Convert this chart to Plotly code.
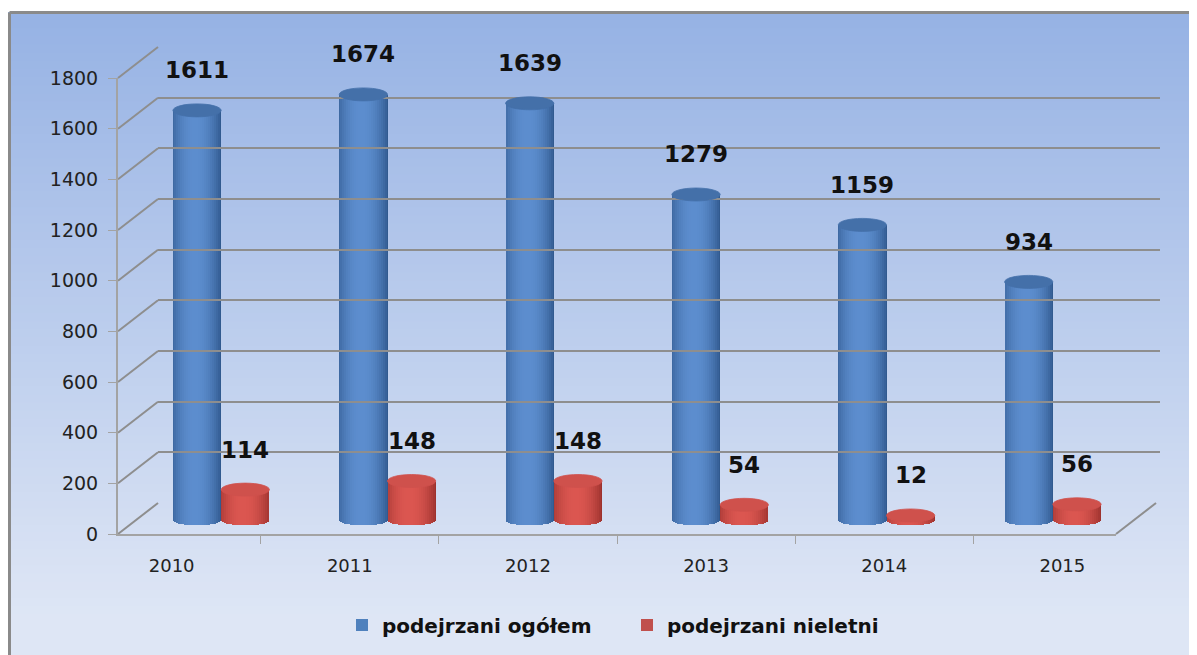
import plotly.graph_objects as go
import numpy as np

# ---------------- data ----------------
years = ["2010", "2011", "2012", "2013", "2014", "2015"]
ogolem = [1611, 1674, 1639, 1279, 1159, 934]
nieletni = [114, 148, 148, 54, 12, 56]
series_names = ["podejrzani ogółem", "podejrzani nieletni"]
y_ticks = [0, 200, 400, 600, 800, 1000, 1200, 1400, 1600, 1800]

# ---------------- geometry (screen pixels) ----------------
W, H = 1197, 655
OX, OY = 8, 8                 # page body margin offset
FX0, FX1 = 118, 1116          # front plane x extent
FY0, FY1 = 534, 78            # front plane y of 0 and 1800
DX, DY = 40, 31               # depth offset front -> back
YMAX = 1800
S = (FY0 - FY1) / YMAX        # px per unit
MX0, MX1 = FX0 + DX / 2, FX1 + DX / 2
MY0 = FY0 - DY / 2
YLOW = -100                   # extra room below zero for rounded bottoms


def px(x):
    return (x - OX) / W


def py(y):
    return 1 - (y - OY) / H


def front_y(v):
    return FY0 - v * S


def back_y(v):
    return FY0 - DY - v * S


FONT = "DejaVu Sans"
GRID = "#8e8e8e"
AXIS = "#a3a3a3"

fig = go.Figure()

# ---------------- cylinder bars ----------------
BW = 0.29
OFF = 0.145
M = 24
EH = 6.5 / S

palettes = [
    dict(left=(58, 100, 156), light=(92, 141, 206), right=(44, 84, 136), cap="#4470a9"),
    dict(left=(170, 58, 54), light=(219, 86, 80), right=(150, 46, 42), cap="#cf514c"),
]


def strip_color(p, u):
    c = 0.45
    if u <= c:
        f = np.sin((u / c) * np.pi / 2) ** 0.8
        a, b = p["left"], p["light"]
    else:
        f = np.cos(((u - c) / (1 - c)) * np.pi / 2) ** 0.8
        a, b = p["right"], p["light"]
    rgb = [int(round(a[i] + (b[i] - a[i]) * f)) for i in range(3)]
    return "rgb(%d,%d,%d)" % tuple(rgb)


series = [ogolem, nieletni]
offsets = [-OFF, OFF]
shapes = []

for si, vals in enumerate(series):
    p = palettes[si]
    centres = [i + offsets[si] for i in range(len(years))]
    # draw from the outer edges inwards so overlaps hide seams
    order = sorted(range(M), key=lambda j: abs((j + 0.5) / M - 0.45), reverse=True)
    for j in order:
        u = (j + 0.5) / M
        xs = [c - BW / 2 + u * BW for c in centres]
        drop = EH * np.sqrt(max(0.0, 1 - (2 * u - 1) ** 2))
        col = strip_color(p, u)
        w = BW / M * (1.0 if j in (0, M - 1) else 2.2)
        fig.add_trace(go.Bar(
            x=xs, y=[v + drop for v in vals], base=[-drop] * len(vals),
            width=w,
            marker=dict(color=col, line=dict(width=0)),
            showlegend=False, hoverinfo="skip",
            xaxis="x", yaxis="y",
        ))
    for c, v in zip(centres, vals):
        shapes.append(dict(type="circle", xref="x", yref="y",
                           x0=c - BW / 2, x1=c + BW / 2, y0=v - EH, y1=v + EH,
                           fillcolor=p["cap"], line=dict(width=0.8, color=p["cap"]),
                           layer="above"))

leg_cols = ["#4f81bd", "#c0504d"]
for name, col in zip(series_names, leg_cols):
    fig.add_trace(go.Scatter(x=[None], y=[None], mode="markers", name=name,
                             marker=dict(symbol="square", size=14, color=col),
                             xaxis="x", yaxis="y"))

# ---------------- value labels ----------------
annotations = []
for si, vals in enumerate(series):
    for i, v in enumerate(vals):
        annotations.append(dict(x=i + offsets[si], y=v, xref="x", yref="y",
                                text=str(v), showarrow=False, yshift=40,
                                font=dict(family=FONT, size=23, color="#111111", weight="bold")))

# ---------------- background gradient & border ----------------
top_c = np.array([150, 178, 228])
bot_c = np.array([222, 230, 245])
NB = 80
y_start, y_end = 12, H + OY
bg = []
for k in range(NB):
    ya = y_start + (y_end - y_start) * k / NB
    yb = y_start + (y_end - y_start) * (k + 1) / NB + 1
    t = (k + 0.5) / NB
    c = top_c + (bot_c - top_c) * min(1.0, t * 1.08)
    bg.append(dict(type="rect", xref="paper", yref="paper",
                   x0=px(8), x1=1, y0=max(0, py(yb)), y1=py(ya),
                   fillcolor="rgb(%d,%d,%d)" % tuple(int(round(q)) for q in c),
                   line=dict(width=0), layer="below"))
bg.append(dict(type="line", xref="paper", yref="paper", x0=px(9.5), x1=1,
               y0=py(12.5), y1=py(12.5), line=dict(color="#8a8a8a", width=3), layer="below"))
bg.append(dict(type="line", xref="paper", yref="paper", x0=px(9.5), x1=px(9.5),
               y0=py(12.5), y1=0, line=dict(color="#8a8a8a", width=3), layer="below"))

# ---------------- 3D frame ----------------
frame = []
for v in y_ticks:
    frame.append(dict(type="line", xref="paper", yref="paper",
                      x0=px(FX0), y0=py(front_y(v)), x1=px(FX0 + DX), y1=py(back_y(v)),
                      line=dict(color=GRID, width=2), layer="below"))
frame.append(dict(type="line", xref="paper", yref="paper",
                  x0=px(FX1), y0=py(front_y(0)), x1=px(FX1 + DX), y1=py(back_y(0)),
                  line=dict(color=GRID, width=2), layer="below"))

fig.update_layout(
    width=W, height=H,
    margin=dict(l=0, r=0, t=0, b=0, autoexpand=False),
    paper_bgcolor="white",
    plot_bgcolor="rgba(0,0,0,0)",
    barmode="overlay",
    bargap=0,
    showlegend=True,
    legend=dict(orientation="h", x=px(342), xanchor="left", y=py(625), yanchor="middle",
                font=dict(family=FONT, size=20, color="#111111", weight="bold"),
                bgcolor="rgba(0,0,0,0)", itemsizing="constant",
                entrywidth=240, entrywidthmode="pixels"),
    xaxis=dict(domain=[px(MX0), px(MX1)], range=[-0.5, 5.5], visible=False,
               fixedrange=True, automargin=False),
    yaxis=dict(domain=[py(MY0 - YLOW * S), py(MY0 - YMAX * S)], range=[YLOW, YMAX],
               visible=False, fixedrange=True, automargin=False),
    xaxis2=dict(domain=[px(FX0 + DX), px(FX1 + DX + 4)], range=[0, 1], visible=False,
                anchor="y2", automargin=False),
    yaxis2=dict(domain=[py(back_y(0)), py(back_y(YMAX))], range=[0, YMAX], anchor="x2",
                tickvals=y_ticks, showticklabels=False, showgrid=True,
                gridcolor=GRID, gridwidth=2, zeroline=False, showline=False, ticks="",
                automargin=False),
    xaxis3=dict(domain=[px(FX0), px(FX1)], anchor="y3", type="category",
                categoryorder="array", categoryarray=years,
                tickson="boundaries", ticks="outside", ticklen=8, tickcolor=AXIS,
                showline=True, linecolor=AXIS, linewidth=2, showgrid=False,
                tickfont=dict(family=FONT, size=18, color="#222222"),
                ticklabelstandoff=14, automargin=False),
    yaxis3=dict(domain=[py(FY0), py(FY1)], anchor="x3", range=[0, YMAX],
                tickvals=y_ticks, ticks="outside", ticklen=8, tickcolor=AXIS,
                showline=True, linecolor=AXIS, linewidth=2, showgrid=False, zeroline=False,
                tickfont=dict(family=FONT, size=19, color="#222222"),
                ticklabelstandoff=6, automargin=False),
    shapes=bg + frame + shapes,
    annotations=annotations,
)

fig.add_trace(go.Scatter(x=[None], y=[None], xaxis="x2", yaxis="y2", showlegend=False,
                         hoverinfo="skip"))
fig.add_trace(go.Scatter(x=years, y=[None] * len(years), xaxis="x3", yaxis="y3",
                         showlegend=False, hoverinfo="skip", mode="markers"))

fig.write_html("out.html")
